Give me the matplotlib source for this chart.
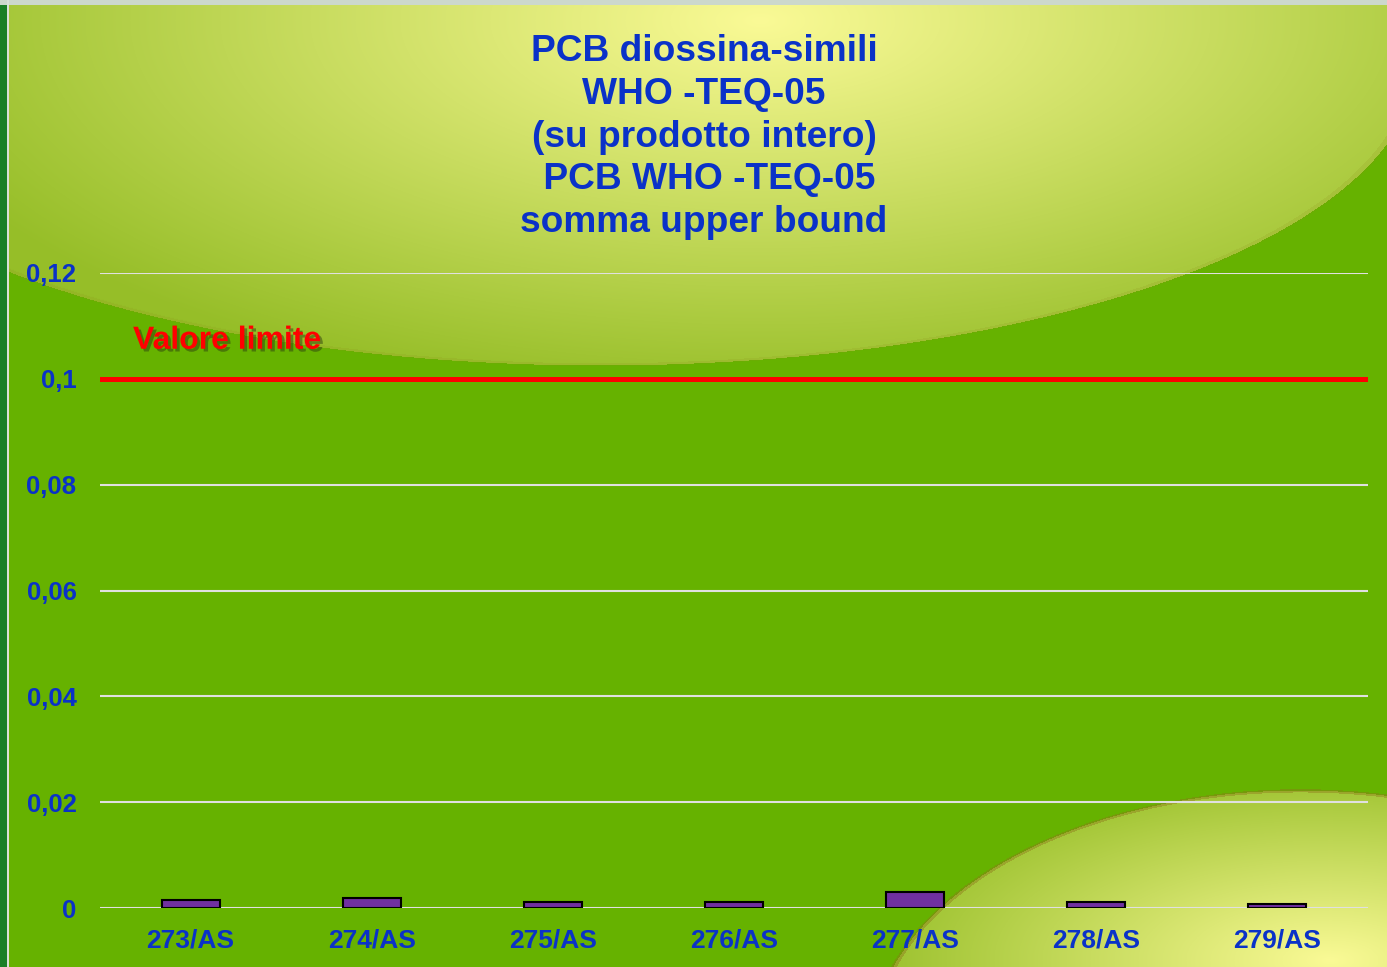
import numpy as np
import matplotlib
matplotlib.use("Agg")
import matplotlib.pyplot as plt
import matplotlib.patheffects as pe

# data
campioni = ["273/AS", "274/AS", "275/AS", "276/AS", "277/AS", "278/AS", "279/AS"]
teq = [0.0016, 0.0019, 0.0011, 0.0011, 0.003, 0.0011, 0.0008]
limite = 0.1
y_ticks = [0, 0.02, 0.04, 0.06, 0.08, 0.1, 0.12]
y_labels = ["0", "0,02", "0,04", "0,06", "0,08", "0,1", "0,12"]
titolo = "PCB diossina-simili\nWHO -TEQ-05\n(su prodotto intero)\n PCB WHO -TEQ-05\nsomma upper bound"

plt.rcParams['font.family'] = ['Liberation Sans', 'DejaVu Sans']

W, H = 1387, 967
fig = plt.figure(figsize=(W / 100, H / 100), dpi=100)

# --- slide-like background (green with pale yellow swooshes)
yy, xx = np.mgrid[0:H, 0:W].astype(float)
green = np.array([102, 179, 0]) / 255.0
pale = np.array([250, 250, 150]) / 255.0
olive = np.array([150, 190, 40]) / 255.0
img = np.ones((H, W, 3)) * green

# top ellipse
e1 = ((xx - 600) / 815) ** 2 + ((yy - 65) / 300) ** 2
d1 = np.sqrt(((xx - 760) / 900) ** 2 + ((yy - 20) / 380) ** 2)
t1 = np.clip(d1, 0, 1)[..., None]
col1 = pale * (1 - t1) + olive * t1
img = np.where((e1 < 1)[..., None], col1, img)
rim1 = (e1 > 0.985) & (e1 < 1.005)
img[rim1] = img[rim1] * 0.85 + np.array([0.55, 0.55, 0.1]) * 0.15

# bottom-right ellipse
e2 = ((xx - 1300) / 430) ** 2 + ((yy - 1050) / 260) ** 2
d2 = np.sqrt(((xx - 1330) / 480) ** 2 + ((yy - 960) / 200) ** 2)
t2 = np.clip(d2, 0, 1)[..., None]
col2 = pale * (1 - t2) + olive * t2
img = np.where((e2 < 1)[..., None], col2, img)
rim2 = (e2 > 0.985) & (e2 < 1.01)
img[rim2] = img[rim2] * 0.6 + np.array([0.55, 0.45, 0.1]) * 0.4

# frame on the left/top
img[:, :7] = np.array([0.1, 0.5, 0.15])
img[:5, :] = np.array([0.8, 0.85, 0.8])
img[:, 7:9] = np.array([0.85, 0.88, 0.85])

bg = fig.add_axes([0, 0, 1, 1])
bg.imshow(img, aspect='auto', interpolation='bilinear')
bg.axis('off')

# --- chart
ax = fig.add_axes([100 / W, 1 - 908 / H, 1268 / W, 635 / H])
ax.set_facecolor('none')
x = np.arange(len(campioni))
ax.bar(x, teq, width=0.32, color='#7030a0', edgecolor='black', linewidth=1.5, zorder=3)
ax.axhline(limite, color='#ff0000', linewidth=3.6, zorder=4)

ax.set_xlim(-0.5, len(campioni) - 0.5)
ax.set_ylim(0, 0.12)
ax.set_yticks(y_ticks)
ax.set_yticklabels(y_labels)
ax.set_xticks(x)
ax.set_xticklabels(campioni)
ax.grid(axis='y', color='#e0e0e0', linewidth=1.5, zorder=1)
ax.set_axisbelow(True)
for s in ax.spines.values():
    s.set_visible(False)
ax.tick_params(length=0)
ax.tick_params(axis='y', pad=17)
ax.tick_params(axis='x', pad=15)
for lab in ax.get_xticklabels():
    lab.set_color('#0a32c8')
    lab.set_fontweight('bold')
    lab.set_fontsize(19)
for lab in ax.get_yticklabels():
    lab.set_color('#0a32c8')
    lab.set_fontweight('bold')
    lab.set_fontsize(18.5)

ax.text(0.026, 0.1 + 0.0072, "Valore limite", transform=ax.get_yaxis_transform(),
        color='#ff0000', fontsize=23, fontweight='bold', ha='left', va='center',
        path_effects=[pe.withSimplePatchShadow(offset=(2, -2), shadow_rgbFace='#304010', alpha=0.5)])

fig.text(704 / W, 1 - 34 / H, titolo, color='#0a32c8', fontsize=26.7, fontweight='bold',
         ha='center', va='top', linespacing=1.29)

fig.savefig("out.png", dpi=100)
